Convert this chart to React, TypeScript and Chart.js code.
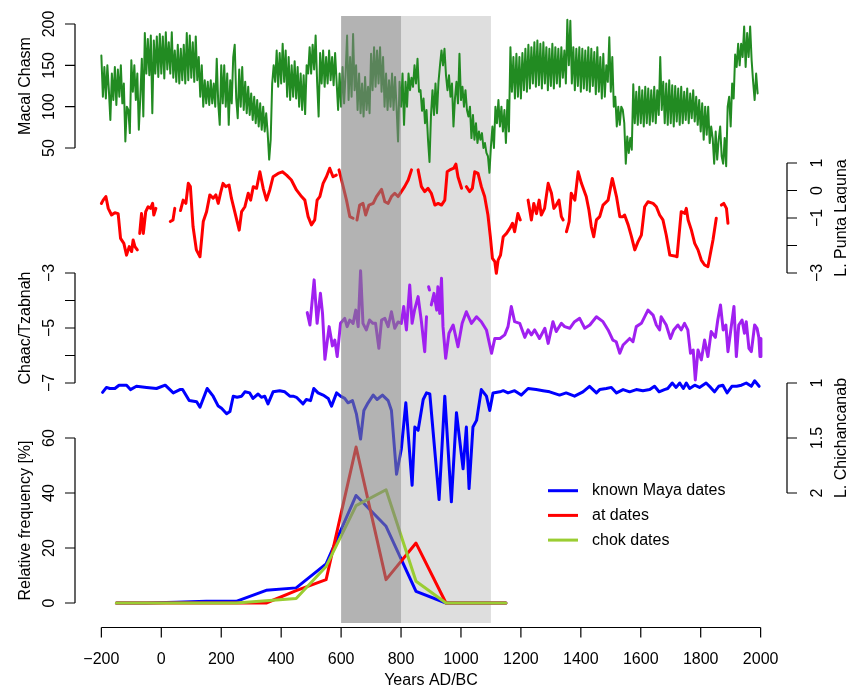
import React, { useEffect, useRef } from "react";
import { Chart, registerables } from "chart.js";

Chart.register(...registerables);

const FONT = '"Liberation Sans", Arial, Helvetica, sans-serif';

// ---------------- DATA ----------------
// Macal Chasm (5-year readings, -200 .. 1990)
const macalStartYear = -200;
const macalStep = 5;
const macalVals = [
  162, 112, 148, 110, 150, 120, 84, 140, 108, 148, 102, 145, 112, 150, 104, 128, 58, 100, 96, 68,
  156, 118, 150, 108, 140, 72, 112, 158, 88, 189, 140, 182, 138, 186, 92, 180, 140, 185, 136, 188,
  140, 185, 134, 190, 145, 178, 140, 190, 135, 168, 130, 175, 128, 170, 132, 175, 128, 189, 132, 186,
  135, 178, 130, 185, 132, 160, 112, 150, 100, 132, 104, 130, 102, 132, 104, 128, 100, 158, 104, 78,
  150, 104, 150, 100, 140, 78, 132, 104, 160, 175, 110, 86, 145, 100, 148, 96, 130, 92, 124, 90,
  116, 84, 112, 80, 108, 76, 104, 72, 100, 70, 92, 68, 36, 60, 128, 150, 130, 168, 124, 165,
  128, 176, 130, 168, 112, 160, 108, 150, 112, 155, 110, 148, 100, 140, 96, 138, 91, 150, 140, 172,
  140, 175, 145, 186, 130, 88, 165, 128, 168, 124, 160, 128, 168, 132, 160, 126, 165, 130, 96, 140,
  100, 148, 104, 140, 186, 108, 160, 112, 188, 120, 150, 96, 140, 92, 128, 88, 136, 96, 124, 92,
  164, 120, 172, 124, 168, 128, 172, 118, 160, 100, 140, 96, 132, 100, 140, 96, 136, 100, 58, 130,
  100, 140, 78, 130, 100, 140, 120, 135, 124, 150, 128, 158, 118, 120, 95, 110, 80, 96, 60, 33,
  90, 120, 90, 128, 92, 130, 150, 168, 150, 170, 138, 120, 138, 112, 128, 76, 110, 130, 104, 164,
  108, 124, 100, 120, 96, 88, 100, 62, 90, 60, 80, 56, 70, 60, 68, 50, 56, 44, 40, 20,
  52, 76, 50, 100, 80, 108, 76, 100, 70, 96, 56, 108, 70, 172, 118, 160, 110, 164, 112, 160,
  110, 165, 120, 170, 118, 175, 122, 172, 128, 178, 124, 180, 126, 176, 122, 178, 128, 172, 120, 170,
  125, 176, 122, 172, 128, 170, 124, 172, 135, 168, 128, 205, 150, 204, 128, 172, 120, 170, 125, 172,
  118, 170, 122, 168, 120, 172, 118, 170, 125, 166, 115, 172, 118, 160, 110, 164, 112, 150, 130, 184,
  118, 160, 100, 112, 76, 100, 78, 100, 96, 80, 31, 64, 44, 62, 48, 127, 80, 118, 78, 124,
  80, 120, 76, 124, 80, 122, 78, 120, 82, 124, 80, 120, 90, 160, 96, 130, 80, 128, 78, 132,
  80, 126, 76, 125, 82, 122, 78, 124, 80, 118, 84, 122, 80, 116, 86, 120, 82, 112, 78, 108,
  70, 104, 60, 100, 66, 100, 56, 76, 62, 31, 70, 36, 60, 76, 40, 31, 62, 28, 100, 112,
  76, 128, 110, 163, 148, 176, 150, 176, 160, 197, 148, 189, 160, 197, 156, 130, 108, 140, 116,
];
const macalYears = macalVals.map((_, i) => macalStartYear + i * macalStep);

// L. Punta Laguna (null = gap in record)
const plYears = [
  -200, -194, -185, -177, -166, -155, -144, -136, -125, -116,
  -107, -99, -94, -88, -80, -76, -72, -66, -60, -52,
  -44, -36, -29, -25, -18, 0, 30, 39, 45, 55,
  64, 73, 82, 90, 97, 106, 117, 129, 140, 151,
  162, 173, 182, 190, 198, 206, 215, 226, 234, 245,
  260, 268, 279, 290, 298, 307, 318, 329, 340, 351,
  362, 373, 390, 404, 418, 434, 451, 468, 479, 490,
  501, 512, 520, 529, 540, 551, 562, 573, 584, 589,
  593, 607, 618, 629, 640, 646, 653, 662, 673, 682,
  693, 707, 718, 735, 746, 757, 768, 779, 790, 801,
  812, 824, 835, 846, 857, 868, 879, 890, 901, 913,
  924, 935, 946, 954, 963, 976, 983, 990, 1002, 1010,
  1018, 1029, 1038, 1046, 1057, 1068, 1079, 1090, 1098, 1105,
  1113, 1118, 1124, 1132, 1141, 1152, 1163, 1172, 1179, 1190,
  1198, 1210, 1224, 1235, 1243, 1252, 1261, 1268, 1279, 1291,
  1302, 1310, 1318, 1327, 1335, 1341, 1346, 1352, 1361, 1368,
  1380, 1391, 1402, 1418, 1427, 1435, 1443, 1452, 1463, 1474,
  1491, 1505, 1519, 1530, 1541, 1546, 1558, 1569, 1580, 1591,
  1602, 1613, 1624, 1641, 1652, 1663, 1674, 1685, 1697, 1713,
  1721, 1735, 1747, 1752, 1758, 1769, 1780, 1791, 1802, 1813,
  1824, 1841, 1852, 1860, 1869, 1877, 1886, 1891,
];
const plVals = [
  -0.47, -0.35, -0.22, -0.65, -0.89, -0.81, -0.84, -1.74, -1.92, -2.35,
  -2.04, -2.22, -1.8, -2.04, -2.16, null, -1.56, -0.84, -1.56, -0.77,
  -0.59, -0.65, -0.47, -0.89, -0.65, null, -1.13, -1.07, -0.65, null,
  -0.73, -0.35, -0.47, 0.26, 0.14, -1.32, -2.16, -2.41, -1.13, -0.77,
  -0.16, -0.28, -0.16, -0.47, -0.08, 0.26, 0.14, 0.2, -0.28, -0.77,
  -1.44, -0.77, -0.59, -0.1, -0.35, 0.14, 0.08, 0.68, 0.08, -0.35,
  0.02, 0.5, 0.62, 0.68, 0.56, 0.38, 0.02, -0.22, -0.35, -0.95,
  -1.25, -1.07, -0.35, -0.22, 0.26, 0.5, 0.81, 0.5, 0.56, null,
  0.75, 0.14, -0.35, -0.95, -1.01, null, -1.07, -0.53, -0.47, -0.89,
  -0.53, -0.47, -0.22, 0.04, -0.41, -0.47, -0.22, -0.1, -0.22, -0.04,
  0.14, 0.38, 0.75, null, 0.75, 0.14, -0.04, 0.08, -0.1, -0.53,
  -0.47, -0.53, -0.35, 0.68, 0.75, 0.81, 0.96, 0.5, 0.08, null,
  0.14, -0.04, 0.08, 0.68, 0.62, 0.14, -0.22, -0.89, -1.68, -2.47,
  -2.59, -3.01, -2.53, -2.35, -1.68, -1.56, -1.38, -1.19, -1.5, -0.84,
  -1.07, null, -0.35, -1.07, -0.47, -0.84, -0.35, -0.89, -0.65, 0.26,
  -0.1, -0.65, -0.53, -0.35, -0.95, -1.07, null, -1.5, -1.13, -0.1,
  -0.35, 0.68, 0.26, -0.22, -0.71, -1.32, -1.68, -1.07, -0.95, -0.53,
  -0.35, 0.44, -0.22, -0.95, -0.95, -0.89, -1.25, -1.68, -2.16, -1.86,
  -1.62, -0.59, -0.41, -0.47, -0.59, -0.89, -1.07, -1.62, -2.35, -2.38,
  -2.41, -0.77, -0.83, -0.65, -1.07, -1.44, -1.92, -2.16, -2.53, -2.71,
  -2.77, -1.8, -1.01, null, -0.53, -0.47, -0.65, -1.19,
];

// Chaac / Tzabnah
const chaacYears = [
  487, 496, 510, 520, 531, 538, 546, 560, 571, 579,
  587, 598, 612, 620, 629, 640, 649, 657, 665, 673,
  684, 695, 706, 715, 726, 735, 746, 757, 768, 779,
  790, 801, 809, 818, 829, 837, 845, 857, 868, 879,
  885, 889, 892, 895, 898, 901, 910, 919, 923, 929,
  935, 940, 949, 960, 974, 990, 1004, 1018, 1035, 1052,
  1068, 1085, 1102, 1113, 1130, 1146, 1157, 1168, 1179, 1196,
  1213, 1224, 1235, 1246, 1262, 1280, 1291, 1307, 1318, 1335,
  1346, 1363, 1379, 1396, 1413, 1430, 1452, 1474, 1491, 1507,
  1518, 1530, 1541, 1563, 1574, 1585, 1602, 1624, 1641, 1652,
  1663, 1668, 1685, 1699, 1710, 1724, 1735, 1746, 1757, 1766,
  1775, 1782, 1791, 1802, 1813, 1824, 1835, 1849, 1857, 1866,
  1875, 1884, 1891, 1902, 1911, 1919, 1927, 1938, 1946, 1952,
  1961, 1969, 1980, 1988, 1994, 1998, 2001,
];
const chaacVals = [
  -4.44, -4.89, -3.25, -4.83, -3.74, -4.47, -6.14, -4.95, -5.65, -5.44,
  -6.04, -4.83, -4.65, -4.95, -4.71, -4.83, -4.35, -4.95, -2.92, -4.83,
  -5.07, -4.71, -4.83, -4.83, -5.74, -4.71, -4.65, -4.95, -4.41, -5.01,
  -4.78, -4.83, -4.22, -5.07, -3.44, -4.83, -4.35, -3.86, -4.77, -5.86,
  -4.59, null, -3.5, -3.62, null, -4.16, -3.74, -4.35, -3.5, -4.47,
  -3.19, -4.95, -6.1, -5.19, -4.89, -5.68, -4.83, -4.41, -4.83, -4.59,
  -4.77, -5.07, -5.92, -5.38, -5.38, -5.25, -4.95, -4.22, -4.77, -4.83,
  -5.34, -5.07, -5.25, -5.07, -5.38, -5.01, -5.56, -4.77, -5.13, -4.83,
  -4.95, -5.01, -4.77, -4.65, -5.01, -4.89, -4.59, -4.77, -5.07, -5.44,
  -5.5, -5.92, -5.62, -5.38, -5.5, -4.95, -4.83, -4.35, -4.53, -4.89,
  -5.07, -4.59, -4.89, -5.38, -5.07, -4.89, -5.07, -4.83, -5.07, -5.92,
  -5.8, -6.89, -5.8, -6.16, -5.44, -6.04, -5.13, -5.34, -4.71, -4.16,
  -5.07, -4.89, -5.86, -4.95, -4.22, -6.04, -4.89, -4.71, -5.19, -4.77,
  -5.74, -5.86, -4.89, -5.01, -5.34, -6.04, -5.38,
];

// L. Chichancanab
const chichYears = [
  -196, -183, -172, -155, -141, -116, -103, -83, -49, -16,
  13, 40, 62, 71, 93, 118, 129, 153, 173, 190,
  201, 218, 229, 240, 253, 268, 279, 295, 306, 323,
  334, 345, 356, 373, 395, 412, 429, 440, 451, 473,
  484, 498, 509, 523, 540, 557, 568, 585, 598, 612,
  623, 638, 651, 665, 676, 690, 707, 720, 738, 757,
  768, 785, 801, 816, 837, 846, 857, 874, 885, 896,
  927, 946, 968, 985, 1007, 1018, 1027, 1040, 1052, 1068,
  1085, 1096, 1107, 1130, 1141, 1157, 1179, 1201, 1224, 1251,
  1274, 1296, 1329, 1351, 1379, 1407, 1429, 1452, 1463, 1485,
  1502, 1519, 1541, 1563, 1585, 1607, 1630, 1646, 1661, 1679,
  1690, 1705, 1718, 1730, 1742, 1752, 1763, 1780, 1796, 1818,
  1833, 1846, 1860, 1874, 1888, 1904, 1920, 1936, 1952, 1969,
  1980, 1995,
];
const chichVals = [
  1.085, 1.04, 1.05, 1.05, 1.02, 1.02, 1.06, 1.03, 1.04, 1.05,
  1.02, 1.09, 1.06, 1.06, 1.16, 1.17, 1.22, 1.05, 1.12, 1.21,
  1.23, 1.28, 1.26, 1.12, 1.13, 1.12, 1.08, 1.09, 1.14, 1.1,
  1.13, 1.12, 1.19, 1.08, 1.07, 1.08, 1.12, 1.12, 1.13, 1.19,
  1.15, 1.16, 1.05, 1.09, 1.11, 1.14, 1.21, 1.09, 1.12, 1.14,
  1.18, 1.16, 1.28, 1.51, 1.25, 1.18, 1.11, 1.15, 1.11, 1.16,
  1.25, 1.83, 1.6, 1.18, 1.93, 1.4, 1.43, 1.15, 1.09, 1.1,
  2.06, 1.12, 2.08, 1.27, 1.78, 1.4, 1.96, 1.4, 1.34, 1.06,
  1.12, 1.25, 1.09, 1.08, 1.07, 1.09, 1.07, 1.11, 1.05, 1.06,
  1.07, 1.08, 1.11, 1.09, 1.12, 1.08, 1.03, 1.09, 1.06, 1.05,
  1.04, 1.09, 1.06, 1.08, 1.06, 1.07, 1.06, 1.03, 1.08, 1.06,
  1.05, 1.0, 1.04, 1.0, 1.05, 1.0, 1.05, 1.02, 1.04, 1.0,
  1.04, 1.08, 1.03, 1.02, 1.09, 1.03, 1.03, 1.02, 1.0, 1.03,
  0.98, 1.03,
];

// Relative frequency of dated monuments
const freqYears = [-150, -50, 50, 150, 250, 350, 450, 550, 650, 750, 850, 950, 1050, 1150];
const knownMayaVals = [0, 0, 0.3, 0.6, 0.6, 4.6, 5.5, 14.2, 39.1, 27.9, 4.2, 0, 0, 0];
const atVals = [0, 0, 0, 0, 0, 0, 4.5, 8.5, 56.7, 8.5, 21.8, 0, 0, 0];
const chokVals = [0, 0, 0, 0, 0, 0.8, 1.6, 13.3, 35.4, 41.2, 7.9, 0, 0, 0];

// Ticks
const xTicks = [-200, 0, 200, 400, 600, 800, 1000, 1200, 1400, 1600, 1800, 2000];
const macalTicks = [50, 100, 150, 200];
const macalTickLabels = ["50", "100", "150", "200"];
const plTicks = [1, 0, -1, -2, -3];
const plTickLabels = ["1", "0", "\u22121", "", "\u22123"];
const chaacTicks = [-3, -4, -5, -6, -7];
const chaacTickLabels = ["\u22123", "", "\u22125", "", "\u22127"];
const chichTicks = [1, 1.5, 2];
const chichTickLabels = ["1", "1.5", "2"];
const freqTicks = [0, 20, 40, 60];
const freqTickLabels = ["0", "20", "40", "60"];

// Shaded periods
const darkPeriod = [600, 800];
const lightPeriod = [800, 1100];

// ---------------- LAYOUT ----------------
const W = 847;
const H = 686;
const AREA = { left: 75, right: 787, top: 16, bottom: 623 };

function band(vA: number, pA: number, vB: number, pB: number) {
  const k = (vB - vA) / (pB - pA);
  const vTop = vA + (AREA.top - pA) * k;
  const vBot = vA + (AREA.bottom - pA) * k;
  return vTop > vBot
    ? { min: vBot, max: vTop, reverse: false }
    : { min: vTop, max: vBot, reverse: true };
}

function pts(xs: number[], ys: (number | null)[]) {
  return xs.map((x, i) => ({ x, y: ys[i] }));
}

const fmtX = (v: number) => (v < 0 ? "\u2212" + Math.abs(v) : String(v));

const yAxesSpec = [
  { id: "yMacal", side: "left", ticks: macalTicks, labels: macalTickLabels, title: "Macal Chasm" },
  { id: "yPL", side: "right", ticks: plTicks, labels: plTickLabels, title: "L. Punta Laguna" },
  { id: "yChaac", side: "left", ticks: chaacTicks, labels: chaacTickLabels, title: "Chaac/Tzabnah" },
  { id: "yChich", side: "right", ticks: chichTicks, labels: chichTickLabels, title: "L. Chichancanab" },
  { id: "yFreq", side: "left", ticks: freqTicks, labels: freqTickLabels, title: "Relative frequency [%]" },
];

const decorPlugin = {
  id: "decor",
  beforeDatasetsDraw(chart: any) {
    const { ctx, chartArea, scales } = chart;
    const x = scales.x;
    ctx.save();
    ctx.fillStyle = "#dedede";
    const a = x.getPixelForValue(lightPeriod[0]);
    const b = x.getPixelForValue(lightPeriod[1]);
    ctx.fillRect(a, chartArea.top, b - a, chartArea.bottom - chartArea.top);
    ctx.restore();
  },
  afterDatasetsDraw(chart: any) {
    const { ctx, chartArea, scales } = chart;
    const x = scales.x;
    ctx.save();
    ctx.fillStyle = "rgba(128,128,128,0.6)";
    const a = x.getPixelForValue(darkPeriod[0]);
    const b = x.getPixelForValue(darkPeriod[1]);
    ctx.fillRect(a, chartArea.top, b - a, chartArea.bottom - chartArea.top);
    ctx.restore();
  },
  afterDraw(chart: any) {
    const { ctx, chartArea, scales } = chart;
    const x = scales.x;
    ctx.save();
    ctx.strokeStyle = "#000";
    ctx.fillStyle = "#000";
    ctx.lineWidth = 1.2;
    ctx.font = `16px ${FONT}`;

    // x axis
    const axY = chartArea.bottom + 4.5;
    ctx.beginPath();
    ctx.moveTo(x.getPixelForValue(xTicks[0]), axY);
    ctx.lineTo(x.getPixelForValue(xTicks[xTicks.length - 1]), axY);
    xTicks.forEach((t) => {
      const px = x.getPixelForValue(t);
      ctx.moveTo(px, axY);
      ctx.lineTo(px, axY + 10);
    });
    ctx.stroke();
    ctx.textAlign = "center";
    ctx.textBaseline = "alphabetic";
    xTicks.forEach((t) => {
      ctx.fillText(fmtX(t), x.getPixelForValue(t), axY + 36);
    });
    ctx.fillText("Years AD/BC", (chartArea.left + chartArea.right) / 2, axY + 57);

    // y axes
    yAxesSpec.forEach((spec) => {
      const s = scales[spec.id];
      const left = spec.side === "left";
      const xp = left ? chartArea.left : chartArea.right;
      const dir = left ? -1 : 1;
      const y0 = s.getPixelForValue(spec.ticks[0]);
      const y1 = s.getPixelForValue(spec.ticks[spec.ticks.length - 1]);
      ctx.beginPath();
      ctx.moveTo(xp, y0);
      ctx.lineTo(xp, y1);
      spec.ticks.forEach((t: number) => {
        const py = s.getPixelForValue(t);
        ctx.moveTo(xp, py);
        ctx.lineTo(xp + dir * 10, py);
      });
      ctx.stroke();
      const labX = left ? xp - 21.5 : xp + 35;
      spec.ticks.forEach((t: number, i: number) => {
        const lab = spec.labels[i];
        if (!lab) return;
        const py = s.getPixelForValue(t);
        ctx.save();
        ctx.translate(labX, py);
        ctx.rotate(-Math.PI / 2);
        ctx.textAlign = "center";
        ctx.textBaseline = "alphabetic";
        ctx.fillText(lab, 0, 0);
        ctx.restore();
      });
      const titX = left ? xp - 45 : xp + 58.5;
      ctx.save();
      ctx.translate(titX, (y0 + y1) / 2);
      ctx.rotate(-Math.PI / 2);
      ctx.textAlign = "center";
      ctx.textBaseline = "alphabetic";
      ctx.fillText(spec.title, 0, 0);
      ctx.restore();
    });

    // legend
    const legendItems = chart.data.datasets.filter((d: any) => d.inLegend);
    legendItems.sort((a: any, b: any) => a.legendRank - b.legendRank);
    const lx = 548;
    let ly = 490.7;
    legendItems.forEach((d: any) => {
      ctx.strokeStyle = d.borderColor;
      ctx.lineWidth = 3;
      ctx.beginPath();
      ctx.moveTo(lx, ly);
      ctx.lineTo(lx + 30, ly);
      ctx.stroke();
      ctx.fillStyle = "#000";
      ctx.textAlign = "left";
      ctx.textBaseline = "middle";
      ctx.fillText(d.label, lx + 44, ly);
      ly += 24.7;
    });
    ctx.restore();
  },
};

export default function App() {
  const ref = useRef<HTMLCanvasElement | null>(null);

  useEffect(() => {
    if (!ref.current) return;
    const common = {
      pointRadius: 0,
      pointHoverRadius: 0,
      fill: false,
      tension: 0,
      spanGaps: false,
      borderJoinStyle: "round" as const,
      borderCapStyle: "round" as const,
    };
    const chart = new Chart(ref.current, {
      type: "line",
      data: {
        datasets: [
          { ...common, label: "Macal Chasm", data: pts(macalYears, macalVals), borderColor: "#228B22", borderWidth: 2, yAxisID: "yMacal", order: 7 },
          { ...common, label: "L. Punta Laguna", data: pts(plYears, plVals), borderColor: "#FF0000", borderWidth: 3, yAxisID: "yPL", order: 6 },
          { ...common, label: "Chaac/Tzabnah", data: pts(chaacYears, chaacVals), borderColor: "#A020F0", borderWidth: 3, yAxisID: "yChaac", order: 5 },
          { ...common, label: "L. Chichancanab", data: pts(chichYears, chichVals), borderColor: "#0000FF", borderWidth: 3, yAxisID: "yChich", order: 4 },
          { ...common, label: "known Maya dates", data: pts(freqYears, knownMayaVals), borderColor: "#0000FF", borderWidth: 3, yAxisID: "yFreq", order: 3, inLegend: true, legendRank: 0 } as any,
          { ...common, label: "at dates", data: pts(freqYears, atVals), borderColor: "#FF0000", borderWidth: 3, yAxisID: "yFreq", order: 2, inLegend: true, legendRank: 1 } as any,
          { ...common, label: "chok dates", data: pts(freqYears, chokVals), borderColor: "#9ACD32", borderWidth: 3, yAxisID: "yFreq", order: 1, inLegend: true, legendRank: 2 } as any,
        ],
      },
      options: {
        responsive: false,
        animation: false,
        devicePixelRatio: 1,
        events: [],
        layout: {
          padding: { left: AREA.left, right: W - AREA.right, top: AREA.top, bottom: H - AREA.bottom },
        },
        plugins: { legend: { display: false }, tooltip: { enabled: false } },
        scales: {
          x: { type: "linear", min: -288, max: 2088, display: false },
          yMacal: { type: "linear", display: false, ...band(200, 24, 50, 148) },
          yPL: { type: "linear", display: false, ...band(1, 163, -3, 273) },
          yChaac: { type: "linear", display: false, ...band(-3, 273, -7, 383) },
          yChich: { type: "linear", display: false, ...band(1, 383, 2, 493) },
          yFreq: { type: "linear", display: false, ...band(60, 438, 0, 603) },
        },
      },
      plugins: [decorPlugin],
    } as any);
    return () => chart.destroy();
  }, []);

  return (
    <div style={{ position: "absolute", left: 0, top: 0, width: W, height: H, background: "#fff" }}>
      <canvas ref={ref} width={W} height={H} style={{ display: "block" }} />
    </div>
  );
}
